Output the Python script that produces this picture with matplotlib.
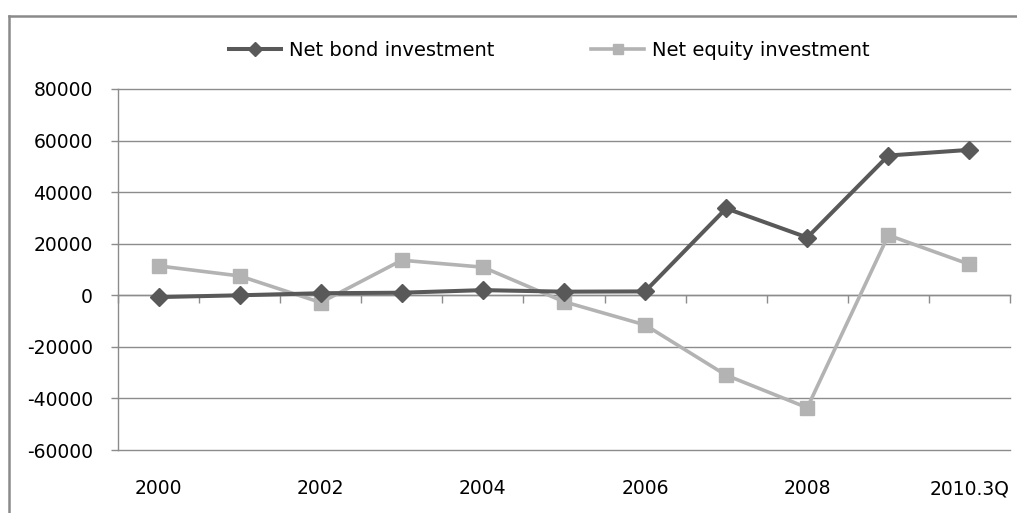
"""Net bond vs. net equity investment, 2000 - 2010.3Q (line chart)."""
import numpy as np
import matplotlib
matplotlib.use("Agg")
import matplotlib.pyplot as plt
from matplotlib.lines import Line2D


periods = ["2000", "2001", "2002", "2003", "2004", "2005",
           "2006", "2007", "2008", "2009", "2010.3Q"]
shown_labels = ["2000", "2002", "2004", "2006", "2008", "2010.3Q"]

net_bond = [-700, 0, 800, 1000, 2000, 1400, 1500, 33700, 22400, 54200, 56400]
net_equity = [11400, 7500, -2800, 13600, 10900, -2500, -11500, -31000, -43600, 23300, 12000]

y_ticks = [-60000, -40000, -20000, 0, 20000, 40000, 60000, 80000]

BOND_COLOR = "#595959"
EQUITY_COLOR = "#b3b3b3"
GRID_COLOR = "#8c8c8c"


def main():
    plt.rcParams["font.family"] = ["DejaVu Sans"]

    W, H = 1017, 513
    fig = plt.figure(figsize=(W / 100, H / 100), dpi=100)

    # plot area in pixel terms
    left, right, top, bottom = 118, 1010, 89, 450
    ax = fig.add_axes([left / W, 1 - bottom / H, (right - left) / W, (bottom - top) / H])

    x = np.arange(len(periods))

    ax.plot(x, net_bond, color=BOND_COLOR, lw=2.9, marker="D", ms=9,
            mec=BOND_COLOR, mfc=BOND_COLOR, label="Net bond investment", zorder=4)
    ax.plot(x, net_equity, color=EQUITY_COLOR, lw=2.6, marker="s", ms=9.5,
            mec=EQUITY_COLOR, mfc=EQUITY_COLOR, label="Net equity investment", zorder=3)

    ax.set_xlim(-0.5, len(periods) - 0.5)
    ax.set_ylim(y_ticks[0], y_ticks[-1])
    ax.set_yticks(y_ticks)
    ax.set_yticklabels([str(v) for v in y_ticks])
    ax.yaxis.grid(True, color=GRID_COLOR, lw=1.0)
    ax.set_axisbelow(True)
    ax.tick_params(axis="y", direction="out", length=5, width=1.0,
                   color=GRID_COLOR, pad=13, labelsize=13.5)
    # keep the outermost gridlines fully visible
    for gl in ax.get_ygridlines():
        gl.set_clip_on(False)

    for side in ("top", "right"):
        ax.spines[side].set_visible(False)
    ax.spines["left"].set_color(GRID_COLOR)
    ax.spines["left"].set_linewidth(1.0)

    # category axis sits on zero, tick marks between categories
    ax.spines["bottom"].set_position(("data", 0))
    ax.spines["bottom"].set_color(GRID_COLOR)
    ax.spines["bottom"].set_linewidth(1.0)
    ax.set_xticks(np.arange(len(periods) + 1) - 0.5, minor=True)
    ax.set_xticks([])
    ax.tick_params(axis="x", which="minor", direction="out", length=6,
                   width=1.0, color=GRID_COLOR)

    for lbl in shown_labels:
        ax.text(periods.index(lbl), -0.108, lbl, transform=ax.get_xaxis_transform(),
                ha="center", va="center", fontsize=13.5)

    fig.legend(loc="center", bbox_to_anchor=(549 / W, 1 - 50 / H), ncol=2,
               frameon=False, fontsize=14, handlelength=2.7, handletextpad=0.4,
               columnspacing=5.0, markerscale=0.8)

    # chart-area frame (top and left edges)
    fig.add_artist(Line2D([8.5 / W, 1.01], [1 - 16 / H, 1 - 16 / H],
                          transform=fig.transFigure, color="#8a8a8a", lw=1.8))
    fig.add_artist(Line2D([8.5 / W, 8.5 / W], [-0.01, 1 - 16 / H],
                          transform=fig.transFigure, color="#8a8a8a", lw=1.8))

    fig.savefig("out.png", dpi=100)


if __name__ == "__main__":
    main()
